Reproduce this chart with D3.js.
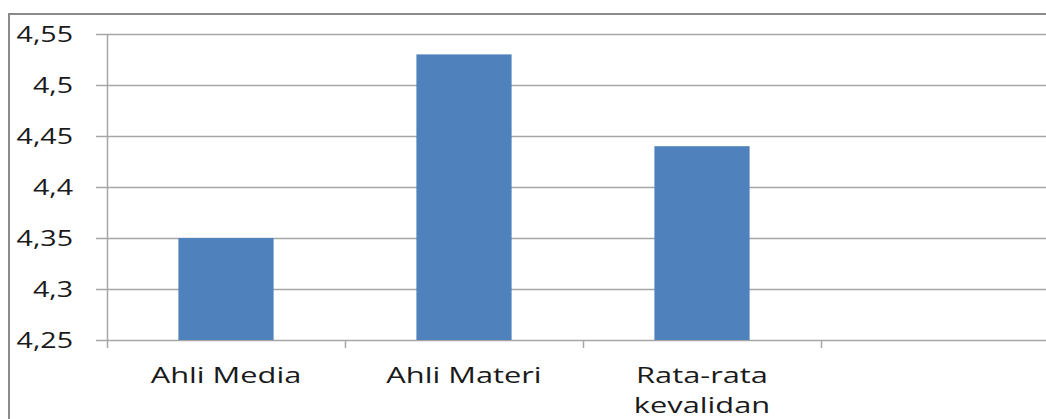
<!DOCTYPE html>
<html><head><meta charset="utf-8">
<script src="https://cdn.jsdelivr.net/npm/d3@7"></script>
<style>body{margin:0;background:#fff}svg{display:block}text{font-family:"Open Sans",sans-serif;fill:#1a1a1a}</style>
</head><body>
<script>
const categories = ["Ahli Media", "Ahli Materi", "Rata-rata kevalidan", ""];
const values = [4.35, 4.53, 4.44, null];
const yTicks = [4.25, 4.3, 4.35, 4.4, 4.45, 4.5, 4.55];
const yTickLabels = ["4,25", "4,3", "4,35", "4,4", "4,45", "4,5", "4,55"];
const labelLines = [["Ahli Media"], ["Ahli Materi"], ["Rata-rata", "kevalidan"], []];

const W = 1046, H = 419;
const svg = d3.select("body").append("svg").attr("width", W).attr("height", H);
const SX = 1.4, SXY = 1.3, FS = 22;

// outer border
svg.append("rect").attr("x", 9).attr("y", 14).attr("width", W + 10).attr("height", H + 10)
  .attr("fill", "none").attr("stroke", "#8a8a8a").attr("stroke-width", 2);

const x0 = 107, x1 = 1059, yTop = 34, yBot = 340;
const x = d3.scaleBand().domain(d3.range(categories.length)).range([x0, x1]).paddingInner(0).paddingOuter(0);
const y = d3.scaleLinear().domain([4.25, 4.55]).range([yBot, yTop]);

// gridlines
svg.append("g").selectAll("line").data(yTicks).join("line")
  .attr("x1", 96).attr("x2", W).attr("y1", d => Math.round(y(d)) + 0.5).attr("y2", d => Math.round(y(d)) + 0.5)
  .attr("stroke", "#a6a6a6").attr("stroke-width", 1.5);

// y tick labels
svg.append("g").selectAll("text").data(yTicks).join("text")
  .attr("transform", d => `translate(73,${y(d) + 8}) scale(${SXY},1)`)
  .attr("text-anchor", "end")
  .attr("font-size", FS).text((d, i) => yTickLabels[i]);

// bars
const bw = x.bandwidth() * 0.4;
svg.append("g").selectAll("rect").data(values.map((v, i) => ({v, i})).filter(d => d.v != null)).join("rect")
  .attr("x", d => x(d.i) + (x.bandwidth() - bw) / 2)
  .attr("width", bw)
  .attr("y", d => y(d.v))
  .attr("height", d => yBot - y(d.v))
  .attr("fill", "#4f81bd");

// y axis line
svg.append("line").attr("x1", x0 + 0.5).attr("x2", x0 + 0.5).attr("y1", yTop).attr("y2", yBot)
  .attr("stroke", "#a6a6a6").attr("stroke-width", 1.5);

// x tick marks at band boundaries
const bounds = d3.range(categories.length + 1).map(i => x0 + i * x.bandwidth());
svg.append("g").selectAll("line").data(bounds).join("line")
  .attr("x1", d => d + 0.5).attr("x2", d => d + 0.5).attr("y1", yBot).attr("y2", yBot + 8)
  .attr("stroke", "#a6a6a6").attr("stroke-width", 1.5);

// x labels
labelLines.forEach((lines, i) => {
  lines.forEach((ln, j) => {
    svg.append("text")
      .attr("transform", `translate(${x(i) + x.bandwidth() / 2},${383 + j * 30}) scale(${SX},1)`)
      .attr("text-anchor", "middle").attr("font-size", FS).text(ln);
  });
});
</script>
</body></html>
